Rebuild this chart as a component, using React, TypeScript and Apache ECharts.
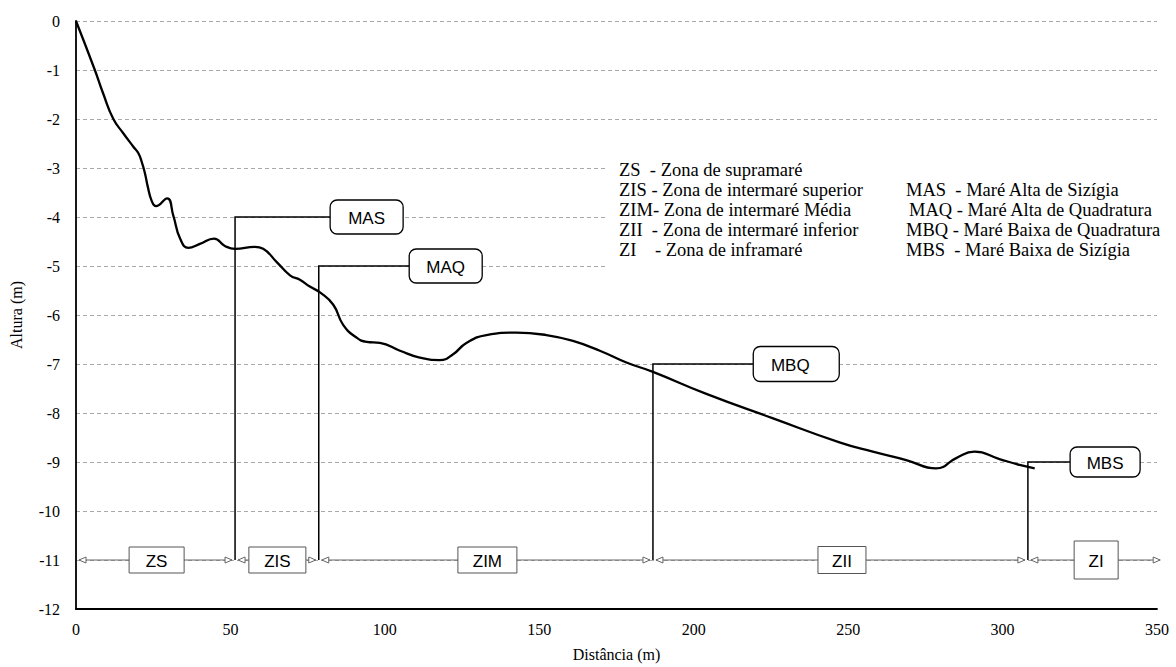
import React, { useEffect, useRef } from "react";
import * as echarts from "echarts";

// Beach profile (distance in m, height in m)
const distance = [0, 6.1, 8.8, 12.1, 15.3, 18.5, 20.2, 21.3, 22.3, 23.2, 24.5, 25.9, 29.5, 31.5, 33.7, 36.4, 40.1, 44.7, 48.2, 51.5, 57.9, 60.6, 65, 69.3, 72.5, 75.7, 79, 83.3, 86.5, 90.8, 94.1, 98.4, 104.9, 111.3, 117.8, 122.1, 126.4, 132.9, 142.6, 152.3, 160.9, 169.6, 178.2, 186.8, 204.1, 225.7, 247.2, 258, 268.8, 278.5, 285, 290.9, 299, 305.5, 310.4];
const height = [0, -1, -1.48, -2, -2.29, -2.56, -2.7, -2.88, -3.1, -3.37, -3.67, -3.78, -3.62, -3.97, -4.44, -4.63, -4.55, -4.44, -4.59, -4.65, -4.61, -4.65, -4.92, -5.19, -5.28, -5.42, -5.54, -5.79, -6.2, -6.46, -6.55, -6.57, -6.73, -6.87, -6.92, -6.8, -6.57, -6.41, -6.36, -6.41, -6.53, -6.73, -6.97, -7.16, -7.61, -8.11, -8.6, -8.79, -8.96, -9.13, -8.92, -8.79, -8.94, -9.06, -9.13];

// Tide levels
const tideNames = ["MAS", "MAQ", "MBQ", "MBS"];
const tideX = [51.5, 78.6, 186.8, 308.2];
const tideY = [-4, -5, -7, -9];
const tideLabelX = [94.1, 119.7, 233.2, 333.2];

// Zones
const zoneNames = ["ZS", "ZIS", "ZIM", "ZII", "ZI"];
const zoneStart = [0, 51.5, 78.6, 186.8, 308.2];
const zoneEnd = [51.5, 78.6, 186.8, 308.2, 352];
const zoneLabelX = [26.1, 65.2, 133.2, 248, 330.3];
const zoneLevel = -11;

// Legend texts
const legendZones = [
  "ZS\u00A0\u00A0- Zona de supramaré",
  "ZIS - Zona de intermaré superior",
  "ZIM- Zona de intermaré Média",
  "ZII\u00A0\u00A0- Zona de intermaré inferior",
  "ZI\u00A0\u00A0\u00A0\u00A0- Zona de inframaré",
];
const legendTides = [
  "MAS\u00A0\u00A0- Maré Alta de Sizígia",
  "MAQ - Maré Alta de Quadratura",
  "MBQ - Maré Baixa de Quadratura",
  "MBS\u00A0\u00A0- Maré Baixa de Sizígia",
];

// Styles
const TIDE_BOX_W = [73, 73, 86, 70];
const TIDE_BOX_H = [34, 34, 35, 30];
const ZONE_BOX_W = [55, 57, 59, 48, 44];
const ZONE_BOX_H = [26, 26, 26, 27, 38];
const SERIF = "Liberation Serif";
const SANS = "Liberation Sans";

export default function App() {
  const ref = useRef<HTMLDivElement>(null);

  useEffect(() => {
    if (!ref.current) return;
    const chart = echarts.init(ref.current, undefined, { renderer: "svg" });

    const profile = distance.map((d, i) => [d, height[i]]);
    const tideData = tideNames.map((n, i) => ({ name: n, value: [tideX[i], tideY[i], tideLabelX[i]] }));
    const zoneData = zoneNames.map((n, i) => ({ name: n, value: [zoneStart[i], zoneLevel, zoneEnd[i], zoneLabelX[i]] }));

    const legendGraphics: any[] = [
      {
        type: "rect",
        z: 100,
        shape: { x: 606, y: 156, width: 556, height: 116 },
        style: { fill: "#fff", stroke: null },
      },
    ];
    legendZones.forEach((t, i) => {
      legendGraphics.push({
        type: "text",
        z: 101,
        x: 619,
        y: 170 + i * 20,
        style: { text: t, font: `18.5px ${SERIF}`, fill: "#000", textVerticalAlign: "middle", verticalAlign: "middle" },
      });
    });
    legendTides.forEach((t, i) => {
      legendGraphics.push({
        type: "text",
        z: 101,
        x: i === 1 ? 909 : 906,
        y: 190 + i * 20,
        style: { text: t, font: `18.5px ${SERIF}`, fill: "#000", textVerticalAlign: "middle", verticalAlign: "middle" },
      });
    });

    const option: any = {
      animation: false,
      backgroundColor: "#fff",
      grid: { left: 76, right: 19, top: 21, bottom: 54, containLabel: false },
      xAxis: {
        type: "value",
        min: 0,
        max: 350,
        interval: 50,
        name: "Distância (m)",
        nameLocation: "middle",
        nameGap: 37,
        nameTextStyle: { fontFamily: SERIF, fontSize: 16, color: "#000" },
        axisLine: { onZero: false, lineStyle: { color: "#000", width: 1.8 } },
        axisTick: { show: false },
        axisLabel: { margin: 12, fontFamily: SERIF, fontSize: 16, color: "#000" },
        splitLine: { show: false },
      },
      yAxis: {
        type: "value",
        min: -12,
        max: 0,
        interval: 1,
        name: "Altura (m)",
        nameLocation: "middle",
        nameGap: 52,
        nameTextStyle: { fontFamily: SERIF, fontSize: 16, color: "#000" },
        axisLine: { show: true, onZero: false, lineStyle: { color: "#000", width: 1.8 } },
        axisTick: { show: false },
        axisLabel: { margin: 16, fontFamily: SERIF, fontSize: 16, color: "#000" },
        splitLine: { show: true, lineStyle: { color: "#aaa", width: 1, type: [4, 3] } },
      },
      graphic: legendGraphics,
      series: [
        {
          type: "custom",
          name: "zones",
          z: 3,
          clip: false,
          encode: { x: 0, y: 1 },
          data: zoneData,
          renderItem: (params: any, api: any) => {
            const i = params.dataIndex;
            const p0 = api.coord([api.value(0), api.value(1)]);
            const p1 = api.coord([api.value(2), api.value(1)]);
            const pc = api.coord([api.value(3), api.value(1)]);
            const y = p0[1];
            const w = ZONE_BOX_W[i];
            const h = ZONE_BOX_H[i];
            const lt = p0[0] + 3;
            const rt = p1[0] - 3;
            const gray = "#666";
            return {
              type: "group",
              children: [
                { type: "line", shape: { x1: lt, y1: y, x2: rt, y2: y }, style: { stroke: gray, lineWidth: 1 } },
                {
                  type: "polygon",
                  shape: { points: [[lt, y], [lt + 7, y - 3], [lt + 7, y + 3]] },
                  style: { fill: "#fff", stroke: gray, lineWidth: 1 },
                },
                {
                  type: "polygon",
                  shape: { points: [[rt, y], [rt - 7, y - 3], [rt - 7, y + 3]] },
                  style: { fill: "#fff", stroke: gray, lineWidth: 1 },
                },
                {
                  type: "rect",
                  shape: { x: pc[0] - w / 2, y: y - h / 2, width: w, height: h },
                  style: { fill: "#fff", stroke: "#555", lineWidth: 1 },
                },
                {
                  type: "text",
                  style: {
                    text: zoneNames[i],
                    x: pc[0],
                    y: y + 1,
                    font: `17px ${SANS}`,
                    fill: "#000",
                    textAlign: "center",
                    textVerticalAlign: "middle",
                    align: "center",
                    verticalAlign: "middle",
                  },
                },
              ],
            };
          },
        },
        {
          type: "custom",
          name: "tides",
          z: 4,
          clip: false,
          encode: { x: 0, y: 1 },
          data: tideData,
          renderItem: (params: any, api: any) => {
            const i = params.dataIndex;
            const x = api.value(0);
            const yv = api.value(1);
            const pBase = api.coord([x, zoneLevel]);
            const pTop = api.coord([x, yv]);
            const pBox = api.coord([api.value(2), yv]);
            const w = TIDE_BOX_W[i];
            const h = TIDE_BOX_H[i];
            return {
              type: "group",
              children: [
                {
                  type: "polyline",
                  shape: { points: [pBase, pTop, [pBox[0] - w / 2, pTop[1]]] },
                  style: { stroke: "#000", lineWidth: 1.5, fill: null },
                },
                {
                  type: "rect",
                  shape: { x: pBox[0] - w / 2, y: pBox[1] - h / 2, width: w, height: h, r: 7 },
                  style: { fill: "#fff", stroke: "#000", lineWidth: 1.3 },
                },
                {
                  type: "text",
                  style: {
                    text: tideNames[i],
                    x: pBox[0] - (i === 2 ? 6 : 0),
                    y: pBox[1] + 1,
                    font: `17px ${SANS}`,
                    fill: "#000",
                    textAlign: "center",
                    textVerticalAlign: "middle",
                    align: "center",
                    verticalAlign: "middle",
                  },
                },
              ],
            };
          },
        },
        {
          type: "line",
          name: "Perfil",
          z: 5,
          data: profile,
          smooth: 0.5,
          showSymbol: false,
          symbol: "none",
          lineStyle: { color: "#000", width: 2.3 },
        },
      ],
    };

    chart.setOption(option);
    return () => chart.dispose();
  }, []);

  return (
    <div
      ref={ref}
      style={{ position: "fixed", left: 0, top: 0, width: 1176, height: 667, background: "#fff" }}
    />
  );
}
